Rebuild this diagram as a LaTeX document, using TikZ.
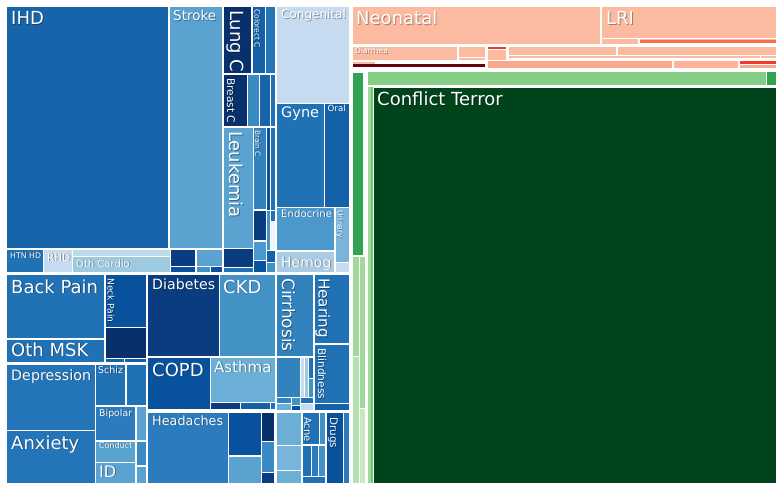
\documentclass[tikz,border=0pt]{standalone}
\usepackage{fontspec}
\setmainfont{DejaVu Sans}
\definecolor{ihd}{HTML}{1764AB}
\definecolor{strk}{HTML}{5AA2D0}
\definecolor{nvy}{HTML}{08306B}
\definecolor{nvb}{HTML}{0B3C80}
\definecolor{b6}{HTML}{08519C}
\definecolor{b5}{HTML}{1561A9}
\definecolor{b4}{HTML}{2171B5}
\definecolor{b4b}{HTML}{2474B8}
\definecolor{b4c}{HTML}{2C7BBF}
\definecolor{b3}{HTML}{3182BD}
\definecolor{b3b}{HTML}{3A8AC4}
\definecolor{b2}{HTML}{4292C6}
\definecolor{b2b}{HTML}{4A98CC}
\definecolor{b1}{HTML}{6BAED6}
\definecolor{b1b}{HTML}{7AB4DB}
\definecolor{b0}{HTML}{9ECAE1}
\definecolor{bl}{HTML}{C6DBEF}
\definecolor{hem}{HTML}{A9CCE4}
\definecolor{rlt}{HTML}{FCBBA1}
\definecolor{rmd}{HTML}{FCA68A}
\definecolor{rm2}{HTML}{FCB39A}
\definecolor{rrd}{HTML}{FB6A4A}
\definecolor{rr2}{HTML}{EF3B2C}
\definecolor{rdk}{HTML}{67000D}
\definecolor{gdk}{HTML}{00441B}
\definecolor{gmd}{HTML}{31A354}
\definecolor{gst}{HTML}{85CC84}
\definecolor{glt}{HTML}{A1D99B}
\definecolor{gl2}{HTML}{C7E9C0}
\definecolor{g74}{HTML}{74C476}
\newcommand\cell[5]{\fill[#5] (#1,#2) rectangle (#3,#4);}
% text with a soft shadow inside one node; #1 = vertical shift of the shadow
\newcommand\shtxt[2]{\rlap{\kern0.9pt\raisebox{#1}{\pgfsetfillopacity{0.35}\color{black}#2}}\pgfsetfillopacity{1}#2}
\newcommand\lab[5]{%
  \node[lbl,font=\fontsize{#4}{#4}\selectfont] (#1) at (#2,#3) {\shtxt{-0.9pt}{#5}};}
\newcommand\plainlab[5]{%
  \node[lbl,font=\fontsize{#4}{#4}\selectfont] (#1) at (#2,#3) {#5};}
\newcommand\vlab[5]{%
  \node[lbl,font=\fontsize{#4}{#4}\selectfont,rotate=-90] (#1) at (#2,#3) {\shtxt{0.9pt}{#5}};}
\tikzset{lbl/.style={anchor=base west,inner sep=0pt,text=white}}
\begin{document}
\begin{tikzpicture}[x=1pt,y=-1pt]
\useasboundingbox (0,0) rectangle (776,484);
\fill[white] (0,0) rectangle (776,484);
% ---------- cardiovascular
\cell{7}{7}{168}{248}{ihd}
\cell{170}{7}{222}{248}{strk}
\cell{7}{250}{43}{272}{b4}
\cell{44}{250}{72}{272}{bl}
\cell{73}{250}{170}{256}{b0!70!white}
\cell{73}{257}{170}{272}{b0}
\cell{171}{250}{195}{266}{nvb}
\cell{197}{250}{222}{266}{strk}
\cell{171}{267}{195}{272}{b6}
\cell{197}{267}{210}{272}{b2}
\cell{211}{267}{222}{272}{b6}
% ---------- cancers
\cell{224}{7}{251}{73}{nvy}
\cell{253}{7}{265}{73}{b5}
\cell{266}{7}{275}{73}{b4b}
\cell{224}{75}{247}{126}{nvy}
\cell{248}{75}{259}{126}{b3b}
\cell{260}{75}{270}{126}{ihd}
\cell{271}{75}{275}{126}{b4}
\cell{224}{128}{253}{248}{strk}
\cell{254}{128}{266}{209}{b3}
\cell{254}{211}{266}{240}{nvb}
\cell{254}{242}{266}{260}{b2b}
\cell{254}{261}{266}{272}{b6}
\cell{267}{128}{270}{210}{b6}
\cell{271}{128}{275}{210}{b4}
\cell{267}{211}{270}{250}{b2}
\cell{271}{222}{275}{249}{bl!30!white}
\cell{271}{211}{275}{221}{b4}
\cell{267}{251}{275}{262}{b5}
\cell{267}{263}{275}{272}{b2}
\cell{224}{249}{253}{267}{nvb}
\cell{224}{268}{253}{272}{b4}
% ---------- other NCD
\cell{277}{7}{349}{103}{bl}
\cell{277}{104}{324}{207}{b4}
\cell{325}{104}{349}{207}{b5}
\cell{277}{208}{334}{250}{b2b}
\cell{336}{208}{349}{262}{b1b}
\cell{277}{252}{334}{272}{hem}
\cell{336}{263}{349}{272}{bl}
% ---------- MSK
\cell{7}{275}{104}{338}{b4}
\cell{7}{340}{104}{362}{b4}
\cell{106}{275}{146}{327}{b6}
\cell{106}{328}{146}{358}{nvy}
\cell{106}{359}{124}{362}{b5}
\cell{125}{359}{146}{362}{b5}
% ---------- mental
\cell{7}{365}{95}{430}{b4b}
\cell{7}{431}{95}{483}{b4b}
\cell{96}{365}{125}{405}{b4}
\cell{127}{365}{146}{405}{b4}
\cell{96}{407}{135}{440}{b4c}
\cell{137}{407}{146}{440}{strk}
\cell{96}{442}{135}{462}{strk}
\cell{137}{442}{146}{465}{b3b}
\cell{96}{463}{135}{483}{strk}
\cell{137}{467}{146}{483}{strk}
% ---------- middle column
\cell{148}{275}{219}{356}{nvb}
\cell{220}{275}{275}{356}{b2}
\cell{148}{358}{210}{409}{b6}
\cell{211}{358}{275}{402}{b1}
\cell{211}{403}{240}{409}{nvb}
\cell{241}{403}{270}{409}{b5}
\cell{271}{403}{275}{409}{b4}
\cell{148}{413}{228}{483}{b4c}
\cell{229}{413}{261}{455}{b6}
\cell{229}{457}{261}{483}{strk}
\cell{262}{413}{274}{441}{nvy}
\cell{262}{442}{274}{472}{b3b}
\cell{262}{473}{274}{483}{nvb}
% ---------- right column
\cell{277}{275}{313}{356}{b3}
\cell{315}{275}{349}{343}{b4}
\cell{315}{345}{349}{403}{b4}
\cell{315}{404}{349}{410}{b5}
\cell{277}{358}{300}{397}{b3}
\cell{301}{358}{304}{397}{bl}
\cell{305}{358}{308}{397}{b0}
\cell{309}{358}{313}{378}{b4}
\cell{309}{379}{313}{397}{b2}
\cell{277}{398}{291}{403}{b3}
\cell{292}{398}{300}{405}{b2}
\cell{277}{404}{291}{410}{b1}
\cell{292}{406}{300}{410}{b6}
\cell{301}{398}{313}{403}{b4}
\cell{301}{404}{313}{410}{bl}
\cell{277}{413}{301}{445}{b1}
\cell{277}{446}{301}{470}{b1b}
\cell{277}{471}{301}{483}{b1}
\cell{303}{413}{319}{444}{b4}
\cell{320}{413}{325}{444}{b2}
\cell{303}{446}{311}{476}{b4}
\cell{312}{446}{318}{476}{b4c}
\cell{319}{446}{325}{476}{b2}
\cell{303}{477}{325}{483}{b4}
\cell{327}{413}{343}{483}{b6}
\cell{344}{413}{349}{483}{b4c}
% ---------- communicable
\cell{353}{7}{600}{44}{rlt}
\cell{602}{7}{776}{38}{rlt}
\cell{602}{39}{638}{44}{rlt}
\cell{640}{39}{776}{40}{rlt}
\cell{640}{40.5}{776}{43.5}{rrd}
\cell{353}{47}{457}{60}{rlt}
\cell{459}{47}{485}{57}{rlt}
\cell{459}{58}{485}{60}{rlt}
\cell{488}{47}{506}{49.5}{rr2}
\cell{488}{50.5}{506}{60}{rlt}
\cell{509}{47}{616}{55}{rlt}
\cell{618}{47}{776}{55}{rlt}
\cell{509}{56}{760}{58}{rlt}
\cell{761}{56}{776}{58}{rlt}
\cell{353}{62}{375}{64}{rlt}
\cell{353}{64.5}{485}{67}{rdk}
\cell{488}{61}{672}{68}{rmd}
\cell{674}{61}{738}{68}{rm2}
\cell{740}{61}{776}{64.5}{rr2}
\cell{740}{65.5}{776}{68}{rmd}
% ---------- injuries
\cell{353}{73}{363}{255}{gmd}
\cell{353}{257}{358.5}{356}{glt}
\cell{353}{357}{358.5}{483}{glt!80!white}
\cell{359.5}{257}{365}{408}{glt}
\cell{359.5}{409}{365}{483}{gl2}
\cell{368}{72}{766}{85}{gst}
\cell{767}{72}{776}{85}{gmd}
\cell{368}{87}{370.5}{483}{glt}
\cell{371}{87}{373}{483}{g74}
\cell{374}{88}{776}{483}{gdk}
% ---------- labels
\lab{ihd}{11}{25}{18}{IHD}
\lab{stroke}{173}{20.5}{13.5}{Stroke}
\vlab{lungc}{230}{10}{18}{Lung C}
\vlab{colorect}{254.5}{9}{7.5}{Colorect C}
\vlab{breastc}{227}{78}{10.6}{Breast C}
\vlab{leuk}{229.5}{131}{18}{Leukemia}
\vlab{brainc}{255}{130}{7.4}{Brain C}
\lab{congen}{281}{19}{12}{Congenital}
\plainlab{gyne}{281}{118}{14.5}{Gyne}
\plainlab{oral}{327.5}{112}{8.6}{Oral}
\lab{endo}{281}{217}{10.2}{Endocrine}
\vlab{urin}{337.5}{210}{7.6}{Urinary}
\lab{hemog}{281}{267}{14}{Hemog}
\lab{htn}{10}{258}{7.8}{HTN HD}
\lab{rhd}{47}{261}{10.4}{RHD}
\lab{othc}{76}{267}{10}{Oth Cardio}
\lab{neo}{356}{25}{18}{Neonatal}
\lab{lri}{606}{25}{18}{LRI}
\lab{diar}{355}{54}{7.6}{Diarrhea}
\lab{conf}{377}{106}{18}{Conflict Terror}
\lab{back}{11}{293}{18}{Back Pain}
\lab{othmsk}{11}{356}{18}{Oth MSK}
\vlab{neck}{107.5}{278}{9.1}{Neck Pain}
\lab{depr}{11}{380}{14.3}{Depression}
\lab{anx}{11}{449}{18}{Anxiety}
\lab{schiz}{98}{373}{9.5}{Schiz}
\lab{bip}{99}{416}{9.4}{Bipolar}
\lab{cond}{99}{448}{8}{Conduct}
\lab{id}{99}{477}{16}{ID}
\lab{diab}{152}{289}{14.2}{Diabetes}
\lab{ckd}{223}{293}{18}{CKD}
\lab{copd}{152}{376}{18}{COPD}
\lab{asth}{214}{372}{15}{Asthma}
\lab{head}{152}{425}{12.8}{Headaches}
\vlab{cirr}{282}{278}{17}{Cirrhosis}
\vlab{hear}{318.5}{278}{15.2}{Hearing}
\vlab{blind}{318}{348}{10.6}{Blindness}
\vlab{acne}{304}{417}{10}{Acne}
\vlab{drugs}{330}{417}{10.4}{Drugs}
\end{tikzpicture}
\end{document}
